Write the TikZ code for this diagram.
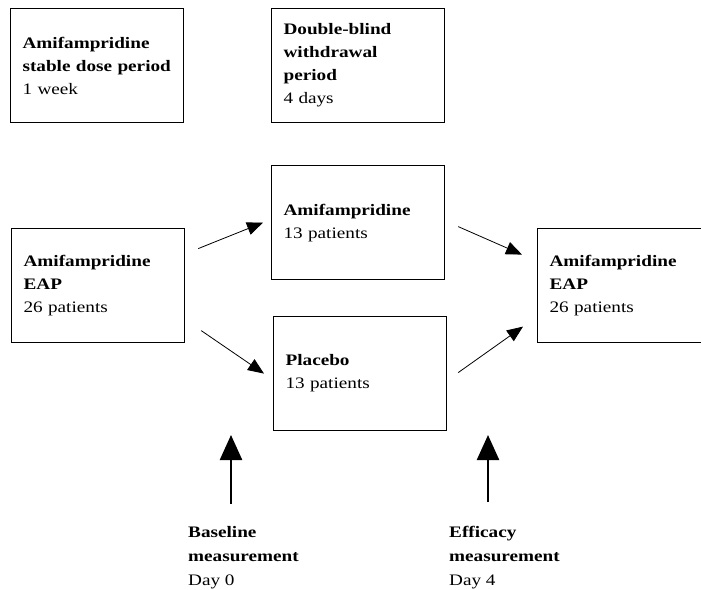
\documentclass[tikz,border=0pt]{standalone}
\usepackage{fontspec}
\setmainfont[FakeStretch=1.2]{Liberation Serif}
\usetikzlibrary{arrows.meta}
\newcommand\boxfont{\fontsize{16}{23}\selectfont\hyphenpenalty=10000\relax}

\begin{document}
\begin{tikzpicture}[x=1pt, y=-1pt,
    box/.style={draw, line width=1.2pt, anchor=north west, text width=149pt,
                minimum height=114pt, inner xsep=12pt, inner ysep=0pt,
                align=left, font=\boxfont},
    flow/.style={line width=0.8pt, -{Triangle[length=16pt, width=13pt]}},
    measure/.style={line width=2.4pt, -{Triangle[length=25pt, width=22pt]}},
    mlabel/.style={anchor=north west, inner sep=0pt, align=left,
                   font=\fontsize{16}{24}\selectfont}]
  \useasboundingbox (0,0) rectangle (701,589);

  \node[box] (dose) at (10,8) {\textbf{Amifampridine}\\\textbf{stable dose period}\\1 week};
  \node[box] (blind) at (271,8) {\textbf{Double-blind}\\\textbf{withdrawal}\\\textbf{period}\\4 days};

  \node[box] (eap) at (11,228) {\textbf{Amifampridine}\\\textbf{EAP}\\26 patients};
  \node[box] (amif) at (271,165) {\textbf{Amifampridine}\\13 patients};
  \node[box] (plac) at (273,316) {\textbf{Placebo}\\13 patients};
  \node[box] (reap) at (537,228) {\textbf{Amifampridine}\\\textbf{EAP}\\26 patients};

  \draw[flow] ([shift={(13,-37)}]eap.east) -- ([shift={(-8,0)}]amif.west);
  \draw[flow] ([shift={(16,45)}]eap.east) -- ([shift={(-9,0)}]plac.west);
  \draw[flow] ([shift={(13,4)}]amif.east) -- ([shift={(-15,-31)}]reap.west);
  \draw[flow] ([shift={(11,-1)}]plac.east) -- ([shift={(-14,41)}]reap.west);

  \node[mlabel] (base) at (188,526) {\textbf{Baseline}\\\textbf{measurement}\\Day 0};
  \node[mlabel] (effi) at (449,526) {\textbf{Efficacy}\\\textbf{measurement}\\Day 4};

  \coordinate (day0) at (231,504);
  \coordinate (day4) at (488,502);
  \draw[measure] (day0) -- ++(0,-69);
  \draw[measure] (day4) -- ++(0,-67);
\end{tikzpicture}
\end{document}
